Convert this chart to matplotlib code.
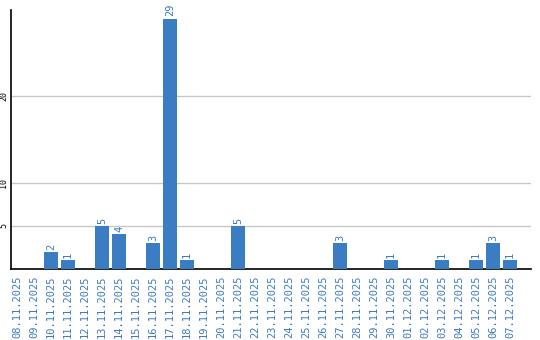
import matplotlib
matplotlib.use("Agg")
import matplotlib.pyplot as plt

dates = ["08.11.2025", "09.11.2025", "10.11.2025", "11.11.2025", "12.11.2025",
         "13.11.2025", "14.11.2025", "15.11.2025", "16.11.2025", "17.11.2025",
         "18.11.2025", "19.11.2025", "20.11.2025", "21.11.2025", "22.11.2025",
         "23.11.2025", "24.11.2025", "25.11.2025", "26.11.2025", "27.11.2025",
         "28.11.2025", "29.11.2025", "30.11.2025", "01.12.2025", "02.12.2025",
         "03.12.2025", "04.12.2025", "05.12.2025", "06.12.2025", "07.12.2025"]
values = [0, 0, 2, 1, 0, 5, 4, 0, 3, 29, 1, 0, 0, 5, 0,
          0, 0, 0, 0, 3, 0, 0, 1, 0, 0, 1, 0, 1, 3, 1]
yticks = [5, 10, 20]

bar_color = "#3A7DC3"
text_color = "#3A7AC2"

W, H = 540, 340
fig = plt.figure(figsize=(W / 100, H / 100), dpi=100)
ax = fig.add_axes([11 / W, 71 / H, 520 / W, 259 / H])

x = list(range(len(dates)))
ax.bar(x, values, width=14 / 17, color=bar_color, zorder=3)
for xi, v in zip(x, values):
    if v > 0:
        ax.text(xi, v + 0.25, str(v), rotation=90, ha="center", va="bottom",
                color=text_color, fontsize=7.5, family="DejaVu Sans Mono")

ax.set_xlim(-6 / 17, 29 + 21 / 17)
ax.set_ylim(0, 30)
ax.set_yticks(yticks)
ax.set_yticklabels([str(t) for t in yticks], rotation=90, va="center",
                   fontsize=6, family="DejaVu Sans Mono")
ax.yaxis.grid(True, color="#C8C8C8", linewidth=1, zorder=0)
ax.tick_params(axis="y", length=0, pad=2)
ax.set_xticks(x)
ax.set_xticklabels(dates, rotation=90, fontsize=7.5, color=text_color,
                   family="DejaVu Sans Mono", va="top")
ax.tick_params(axis="x", length=0, pad=5)
for s in ["top", "right"]:
    ax.spines[s].set_visible(False)
ax.spines["left"].set_color("black")
ax.spines["bottom"].set_color("black")
ax.spines["left"].set_linewidth(1.2)
ax.spines["bottom"].set_linewidth(1.2)

fig.savefig("out.png", dpi=100)
